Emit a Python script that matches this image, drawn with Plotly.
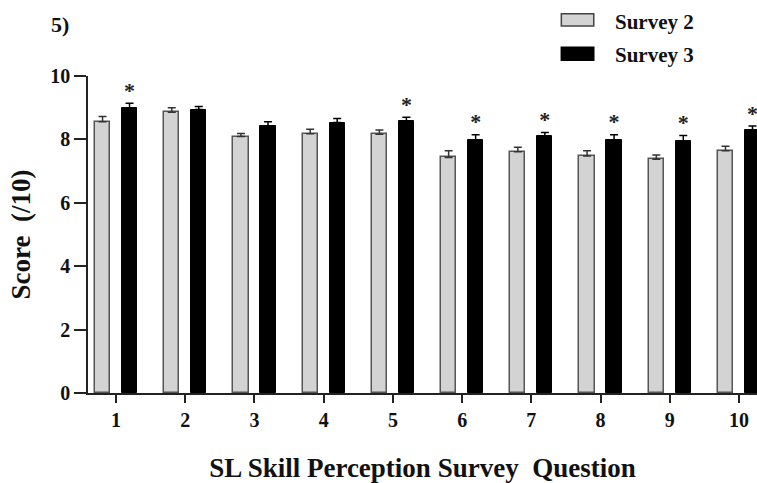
import plotly.graph_objects as go

questions = [1, 2, 3, 4, 5, 6, 7, 8, 9, 10]
tick_labels = ["1", "2", "3", "4", "5", "6", "7", "8", "9", "10"]
survey2 = [8.56, 8.86, 8.09, 8.18, 8.16, 7.43, 7.61, 7.48, 7.37, 7.64]
survey2_err = [0.16, 0.14, 0.10, 0.14, 0.14, 0.21, 0.14, 0.16, 0.14, 0.14]
survey3 = [9.00, 8.94, 8.43, 8.53, 8.57, 7.99, 8.10, 7.99, 7.95, 8.30]
survey3_err = [0.14, 0.10, 0.13, 0.13, 0.13, 0.16, 0.12, 0.16, 0.17, 0.12]
significant = [True, False, False, False, True, True, True, True, True, True]

FONT = "Liberation Serif"
BAR_W = 0.22
OFF2 = -0.305
OFF3 = 0.085

fig = go.Figure()
fig.add_trace(go.Bar(
    x=questions, y=survey2, name="Survey 2", width=BAR_W, offset=OFF2,
    marker=dict(color="#d3d3d3", line=dict(color="#555555", width=1.5)),
    error_y=dict(type="data", array=survey2_err, symmetric=False,
                 arrayminus=[0] * len(survey2_err), color="#333333",
                 thickness=1.5, width=4),
    showlegend=False,
))
fig.add_trace(go.Bar(
    x=questions, y=survey3, name="Survey 3", width=BAR_W, offset=OFF3,
    marker=dict(color="#000000", line=dict(color="#000000", width=1)),
    error_y=dict(type="data", array=survey3_err, symmetric=False,
                 arrayminus=[0] * len(survey3_err), color="#000000",
                 thickness=1.5, width=4),
    showlegend=False,
))

star_x = [q + OFF3 + BAR_W / 2 for q, s in zip(questions, significant) if s]
star_y = [v + e for v, e, s in zip(survey3, survey3_err, significant) if s]
fig.add_trace(go.Scatter(
    x=star_x, y=star_y, mode="text", text=["<b>*</b>"] * len(star_x),
    textposition="top center",
    textfont=dict(family=FONT, size=22, color="#222222"),
    showlegend=False, hoverinfo="skip", cliponaxis=False,
))

# Legend drawn as boxes + labels (paper coords relative to plot area)
legend_items = [("Survey 2", "#d3d3d3", "#444444", 1.158, 1.196, 1.170),
                ("Survey 3", "#000000", "#000000", 1.050, 1.091, 1.066)]
for label, fill, line, y0, y1, ty in legend_items:
    fig.add_shape(type="rect", xref="paper", yref="paper",
                  x0=0.7075, x1=0.756, y0=y0, y1=y1,
                  fillcolor=fill, line=dict(color=line, width=1.5))
    fig.add_annotation(xref="paper", yref="paper", x=0.785, y=ty,
                       text="<b>" + label + "</b>", showarrow=False,
                       xanchor="left", yanchor="middle",
                       font=dict(family=FONT, size=21, color="#111111"))

fig.add_annotation(xref="paper", yref="paper", x=-0.058, y=1.164, text="<b>5)</b>",
                   showarrow=False, xanchor="left", yanchor="middle",
                   font=dict(family=FONT, size=22, color="#111111"))

fig.update_layout(
    width=757, height=483,
    margin=dict(l=88, r=0, t=76, b=90, autoexpand=False),
    plot_bgcolor="white", paper_bgcolor="white",
    font=dict(family=FONT, color="#111111"),
    bargap=0,
)
fig.update_xaxes(
    range=[0.595, 10.26], tickmode="array", tickvals=questions, ticktext=tick_labels,
    showline=True, linecolor="#222222", linewidth=1.5, ticks="outside",
    ticklen=8, tickwidth=1.5, tickcolor="#222222", showgrid=False, zeroline=False,
    tickfont=dict(family=FONT, size=20, color="#111111", weight="bold"),
    automargin=False,
    title=dict(text="<b>SL Skill Perception Survey  Question</b>", standoff=30,
               font=dict(family=FONT, size=27, color="#111111")),
)
fig.update_yaxes(
    range=[0, 10], tickvals=[0, 2, 4, 6, 8, 10],
    showline=True, linecolor="#222222", linewidth=1.5, ticks="outside",
    ticklen=12, tickwidth=1.5, tickcolor="#222222", showgrid=False, zeroline=False,
    tickfont=dict(family=FONT, size=20, color="#111111", weight="bold"),
    automargin=False,
    title=dict(text="<b>Score  (/10)</b>", standoff=12,
               font=dict(family=FONT, size=27, color="#111111")),
)

fig.write_html(
    "out.html",
    config={"displayModeBar": False},
    post_script="document.body.style.margin='0';document.body.style.overflow='hidden';",
)
